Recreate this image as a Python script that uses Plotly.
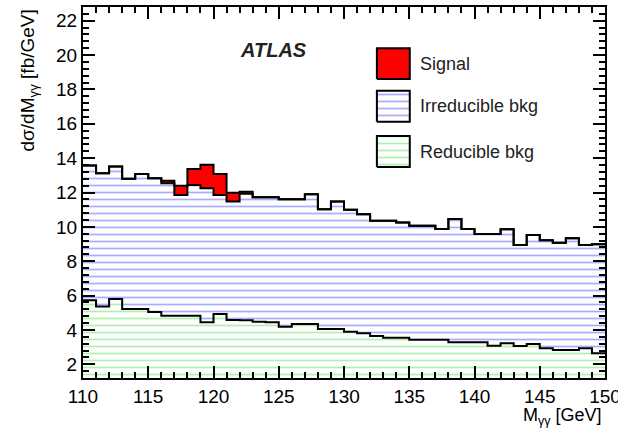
import numpy as np
import plotly.graph_objects as go

# 1 GeV bins from 110 to 150 GeV
bin_edges = np.arange(110, 151, 1)

# dsigma/dM per bin [fb/GeV]
reducible = [5.72, 5.36, 5.80, 5.21, 5.21, 5.04, 4.82, 4.82, 4.82, 4.44,
             4.93, 4.58, 4.56, 4.47, 4.45, 4.19, 4.34, 4.34, 4.06, 4.06,
             3.90, 3.81, 3.65, 3.55, 3.55, 3.42, 3.42, 3.42, 3.28, 3.28,
             3.28, 3.08, 3.22, 3.07, 3.18, 2.93, 2.83, 2.83, 2.93, 2.64]
irreducible = [7.85, 7.76, 7.71, 7.59, 7.87, 7.79, 7.72, 7.04, 7.62, 7.81,
               6.93, 6.89, 7.36, 7.26, 7.28, 7.42, 7.27, 7.56, 6.97, 7.41,
               7.09, 6.93, 6.70, 6.80, 6.70, 6.65, 6.65, 6.46, 7.18, 6.60,
               6.31, 6.51, 6.64, 5.88, 6.35, 6.29, 6.25, 6.51, 6.02, 6.35]
signal = [0, 0, 0, 0, 0, 0, 0.15, 0.54, 0.93, 1.36,
          1.22, 0.52, 0.13, 0, 0, 0, 0, 0, 0, 0,
          0, 0, 0, 0, 0, 0, 0, 0, 0, 0,
          0, 0, 0, 0, 0, 0, 0, 0, 0, 0]

x_ticks = [110, 115, 120, 125, 130, 135, 140, 145, 150]
y_ticks = [2, 4, 6, 8, 10, 12, 14, 16, 18, 20, 22]

legend_labels = ["Signal", "Irreducible bkg", "Reducible bkg"]

RED = "#ff0000"
BLUE = "#5a5aff"
GREEN = "#5ee65e"
FONT = "Liberation Sans, Arial, sans-serif"

centers = bin_edges[:-1] + 0.5


def hatch(color):
    return dict(shape="-", fgcolor=color, bgcolor="white", size=7, solidity=0.25)


fig = go.Figure()

# stacked components
fig.add_bar(x=centers, y=reducible, width=1, showlegend=False,
            marker=dict(color="white", line_width=0, pattern=hatch(GREEN)))
fig.add_bar(x=centers, y=irreducible, width=1, showlegend=False,
            marker=dict(color="white", line_width=0, pattern=hatch(BLUE)))
fig.add_bar(x=centers, y=signal, width=1, showlegend=False,
            marker=dict(color=RED, line_width=0))

# step outlines of each cumulative level
levels = np.cumsum(np.vstack([reducible, irreducible, signal]), axis=0)
for lev in levels:
    fig.add_scatter(x=bin_edges, y=np.append(lev, lev[-1]), mode="lines",
                    line=dict(color="black", width=2, shape="hv"),
                    showlegend=False, hoverinfo="skip")

# legend boxes drawn on an overlay axis pair spanning the frame (0..1)
box_x0, box_x1 = 0.563, 0.626
box_tops = [0.889, 0.774, 0.652]
box_h = 0.083
fills = [dict(fillcolor=RED),
         dict(fillcolor="white", fillpattern=hatch(BLUE)),
         dict(fillcolor="white", fillpattern=hatch(GREEN))]
for top, style, label in zip(box_tops, fills, legend_labels):
    bot = top - box_h
    fig.add_scatter(x=[box_x0, box_x1, box_x1, box_x0, box_x0],
                    y=[bot, bot, top, top, bot],
                    xaxis="x2", yaxis="y2", mode="lines", fill="toself",
                    line=dict(color="black", width=2), showlegend=False,
                    hoverinfo="skip", **style)
    fig.add_annotation(x=0.641, y=top - box_h / 2, xref="paper", yref="paper",
                       text=label, showarrow=False, xanchor="left",
                       yanchor="middle", font=dict(size=18, color="#222"))

fig.add_annotation(x=0.364, y=0.918, xref="paper", yref="paper",
                   text="<b><i>ATLAS</i></b>", showarrow=False,
                   font=dict(size=20, color="#222"))

fig.add_annotation(x=-0.104, y=0.998, xref="paper", yref="paper",
                   text="dσ/dM<sub>γγ</sub> [fb/GeV]", textangle=-90,
                   showarrow=False, xanchor="center", yanchor="top",
                   font=dict(size=19, color="black"))
fig.add_annotation(x=0.998, y=-0.104, xref="paper", yref="paper",
                   text="M<sub>γγ</sub> [GeV]", showarrow=False,
                   xanchor="right", yanchor="middle",
                   font=dict(size=18, color="black"))

axis_common = dict(showline=True, linecolor="black", linewidth=2,
                   mirror="allticks", ticks="inside", ticklen=12,
                   tickwidth=1.5, tickcolor="black", showgrid=False,
                   zeroline=False, tickfont=dict(size=19, color="black"),
                   ticklabeloverflow="allow", automargin=False)

fig.update_layout(
    width=618, height=432,
    margin=dict(l=83, r=13, t=7, b=54, autoexpand=False),
    paper_bgcolor="white", plot_bgcolor="white",
    font=dict(family=FONT),
    barmode="stack", bargap=0,
    xaxis=dict(range=[110, 150], tickvals=x_ticks,
               minor=dict(dtick=1, ticks="inside", ticklen=6,
                          tickcolor="black", tickwidth=1.5),
               **axis_common),
    yaxis=dict(range=[1.2, 22.8], tickvals=y_ticks,
               minor=dict(dtick=0.4, tick0=0, ticks="inside", ticklen=6,
                          tickcolor="black", tickwidth=1.5),
               **axis_common),
    xaxis2=dict(overlaying="x", range=[0, 1], visible=False),
    yaxis2=dict(overlaying="y", range=[0, 1], visible=False),
)

fig.write_html("out.html")
